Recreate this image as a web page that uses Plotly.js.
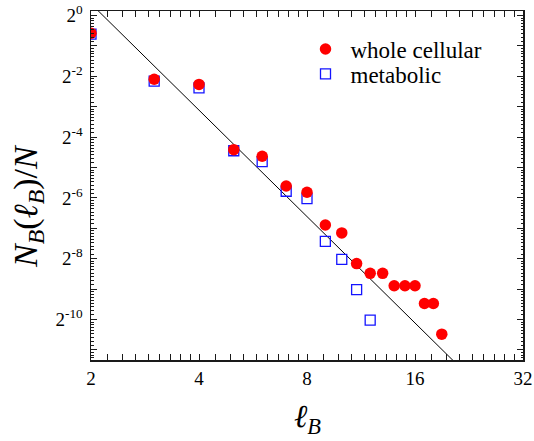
<!DOCTYPE html>
<html>
<head>
<meta charset="utf-8">
<script src="https://cdn.plot.ly/plotly-3.0.1.min.js"></script>
<style>
  html, body { margin: 0; padding: 0; background: #fff; }
  #chart { width: 534px; height: 441px; }
</style>
</head>
<body>
<div id="chart"></div>
<script>
// ---- data ----
const boxSize = [2, 3, 4, 5, 6, 7, 8, 9, 10, 11, 12, 13, 14, 15, 16, 17, 18, 19];
const wholeCellular = [0.667, 0.234, 0.208, 0.0470, 0.0404, 0.0205, 0.0178, 0.00843, 0.00704,
                       0.00350, 0.00280, 0.00280, 0.00211, 0.00211, 0.00211, 0.00141, 0.00141, 0.000700];
const metabolicSize = [2, 3, 4, 5, 6, 7, 8, 9, 10, 11, 12];
const metabolic = [0.655, 0.224, 0.192, 0.0458, 0.0357, 0.0182, 0.0154, 0.00580, 0.00385, 0.00193, 0.000963];
// power-law fit N_B/N = A * l_B^(-dB)
const fitDim = 3.5;
const fitPrefactor = 14.8;
const fitRange = [2, 24];

const xTickVals = [2, 4, 8, 16, 32];
const xTickText = ['2', '4', '8', '16', '32'];
const yLabelExponents = [0, -2, -4, -6, -8, -10];
const yOddExponents = [-1, -3, -5, -7, -9, -11];

// ---- derived ----
const fitY = fitRange.map(x => fitPrefactor * Math.pow(x, -fitDim));
const yTickVals = yLabelExponents.map(e => Math.pow(2, e));
const yTickText = yLabelExponents.map(e => '2<sup>' + e + '</sup>');
const yOddVals = yOddExponents.map(e => Math.pow(2, e));
function octaveMinor(lo, hi) {
  const out = [];
  for (let a = lo; a < hi; a *= 2) {
    for (let j = 1; j <= 8; j++) out.push(a + j * a / 9);
  }
  return out;
}
const xMinor = octaveMinor(2, 32);
const yMinor = octaveMinor(Math.pow(2, -12), 1);

const FONT = 'Liberation Serif, serif';
const L = Math.log10(2);
const yRange = [-11.33 * L, 0.148 * L];
const AX = '#1a1a1a';

const traces = [
  {
    x: fitRange, y: fitY, mode: 'lines', type: 'scatter',
    line: { color: '#000', width: 1 }, showlegend: false, hoverinfo: 'skip'
  },
  {
    x: metabolicSize, y: metabolic, mode: 'markers', type: 'scatter', name: 'metabolic',
    marker: { symbol: 'square-open', size: 10, color: '#1414ff', line: { width: 1.3, color: '#1414ff' } },
    legend: 'legend2'
  },
  {
    x: boxSize, y: wholeCellular, mode: 'markers', type: 'scatter', name: 'whole cellular',
    marker: { symbol: 'circle', size: 11.5, color: '#ff0000', line: { width: 0 } },
    legend: 'legend'
  },
  {
    // carrier for the overlay axis that draws the unlabeled odd-power ticks
    x: [], y: [], yaxis: 'y2', type: 'scatter', mode: 'markers', showlegend: false, hoverinfo: 'skip'
  }
];

const axisCommon = {
  type: 'log', showline: true, linecolor: AX, linewidth: 1.5, mirror: 'allticks',
  ticks: 'inside', ticklen: 6, tickwidth: 1, tickcolor: AX,
  showgrid: false, zeroline: false, tickmode: 'array',
  tickfont: { family: FONT, size: 19, color: '#000' }
};

const layout = {
  width: 534, height: 441,
  margin: { l: 91, r: 11, t: 11, b: 81 },
  paper_bgcolor: '#fff', plot_bgcolor: '#fff',
  showlegend: true,
  xaxis: Object.assign({}, axisCommon, {
    range: [1 * L, 5 * L],
    tickvals: xTickVals, ticktext: xTickText,
    ticklabelstandoff: 1,
    minor: { tickmode: 'array', tickvals: xMinor, ticks: 'inside', ticklen: 3, tickwidth: 1, tickcolor: AX }
  }),
  yaxis: Object.assign({}, axisCommon, {
    range: yRange,
    tickvals: yTickVals, ticktext: yTickText,
    ticklabelstandoff: 3,
    minor: { tickmode: 'array', tickvals: yMinor, ticks: 'inside', ticklen: 2.5, tickwidth: 1, tickcolor: AX }
  }),
  yaxis2: {
    type: 'log', overlaying: 'y', side: 'left', range: yRange,
    showline: false, mirror: 'ticks', ticks: 'inside', ticklen: 6, tickwidth: 1, tickcolor: AX,
    tickmode: 'array', tickvals: yOddVals, showticklabels: false,
    showgrid: false, zeroline: false
  },
  legend: {
    x: (300.5 - 91) / 432, y: (360 - 49) / 349, xanchor: 'left', yanchor: 'middle',
    bgcolor: 'rgba(0,0,0,0)', borderwidth: 0, itemwidth: 40,
    font: { family: FONT, size: 23, color: '#000' }
  },
  legend2: {
    x: (300.5 - 91) / 432, y: (360 - 74) / 349, xanchor: 'left', yanchor: 'middle',
    bgcolor: 'rgba(0,0,0,0)', borderwidth: 0, itemwidth: 40,
    font: { family: FONT, size: 23, color: '#000' }
  },
  annotations: [
    {
      text: '<i>N</i><sub><i>B</i></sub>(<i>ℓ</i><sub><i>B</i></sub>)/<i>N</i>',
      xref: 'paper', yref: 'paper', x: (28 - 91) / 432, y: (360 - 206) / 349,
      xanchor: 'center', yanchor: 'middle', textangle: -90, showarrow: false,
      font: { family: FONT, size: 34, color: '#000' }
    },
    {
      text: '<i>ℓ</i><sub><i>B</i></sub>',
      xref: 'paper', yref: 'paper', x: (307 - 91) / 432, y: (360 - 418) / 349,
      xanchor: 'center', yanchor: 'middle', showarrow: false,
      font: { family: FONT, size: 32, color: '#000' }
    }
  ]
};

Plotly.newPlot('chart', traces, layout, { displayModeBar: false, staticPlot: true });
</script>
</body>
</html>
